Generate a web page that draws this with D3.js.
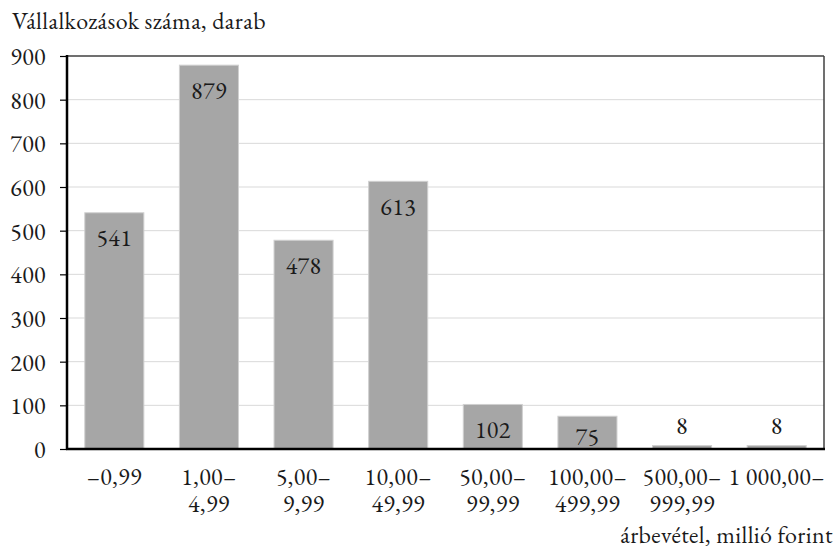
<!DOCTYPE html>
<html><head><meta charset="utf-8">
<script src="https://cdn.jsdelivr.net/npm/d3@7"></script>
<style>body{margin:0;background:#fff}svg{display:block}</style>
</head><body><svg id="c" width="837" height="550"></svg>
<script>
const categories = [["–0,99"],["1,00–","4,99"],["5,00–","9,99"],["10,00–","49,99"],["50,00–","99,99"],["100,00–","499,99"],["500,00–","999,99"],["1 000,00–"]];
const values = [541, 879, 478, 613, 102, 75, 8, 8];
const yTicks = [0,100,200,300,400,500,600,700,800,900];
const yTitle = "Vállalkozások száma, darab";
const xTitle = "árbevétel, millió forint";

const FONT = '"EB Garamond","Liberation Serif",serif';
const fs = 24;
const svg = d3.select("#c");
const L = 67, R = 824, T = 56, B = 449;
const x = d3.scaleBand().domain(d3.range(values.length)).range([L, R]).paddingInner(0.376).paddingOuter(0.188);
const y = d3.scaleLinear().domain([0, 900]).range([B, T]);

function styleText(sel) {
  return sel.style("font-family", FONT).style("font-size", fs + "px").style("letter-spacing", "0.4px").style("fill", "#1a1a1a");
}

// gridlines
svg.append("g").selectAll("line").data(yTicks.filter(d => d > 0 && d < 900)).join("line")
  .attr("x1", L).attr("x2", R).attr("y1", d => y(d)).attr("y2", d => y(d))
  .attr("stroke", "#d9d9d9").attr("stroke-width", 1);

// frame top/right
svg.append("line").attr("x1", L).attr("x2", R).attr("y1", T).attr("y2", T).attr("stroke", "#404040").attr("stroke-width", 1.5);
svg.append("line").attr("x1", R).attr("x2", R).attr("y1", T).attr("y2", B).attr("stroke", "#404040").attr("stroke-width", 1.5);

// bars
svg.append("g").selectAll("rect").data(values).join("rect")
  .attr("x", (d, i) => x(i)).attr("width", x.bandwidth())
  .attr("y", d => y(d)).attr("height", d => B - y(d))
  .attr("fill", "#a6a6a6").attr("stroke", "#d0d0d0").attr("stroke-width", 1);

// data labels
styleText(svg.append("g").selectAll("text").data(values).join("text")
  .attr("x", (d, i) => x(i) + x.bandwidth() / 2)
  .attr("y", d => (B - y(d) > 30 ? Math.min(y(d) + 25, B - 13) : y(d) - 20))
  .attr("text-anchor", "middle").attr("dominant-baseline", "central")
  .text(d => d));

// y axis
const ya = d3.axisLeft(y).tickValues(yTicks).tickSize(7).tickPadding(14).tickFormat(d3.format("d"));
const yg = svg.append("g").attr("transform", `translate(${L},0)`).call(ya);
yg.select(".domain").remove();
yg.selectAll("line").attr("stroke", "#000").attr("stroke-width", 1.2);
styleText(yg.selectAll("text")).attr("dy", null).attr("dominant-baseline", "central");
svg.append("line").attr("x1", L).attr("x2", L).attr("y1", T - 1).attr("y2", B + 1).attr("stroke", "#000").attr("stroke-width", 2.5);
svg.append("line").attr("x1", L - 1).attr("x2", R + 1).attr("y1", B).attr("y2", B).attr("stroke", "#000").attr("stroke-width", 2.5);

// x labels
const xl = styleText(svg.append("g").selectAll("text").data(categories).join("text")
  .attr("x", (d, i) => x(i) + x.bandwidth() / 2).attr("y", 476)
  .attr("text-anchor", "middle").attr("dominant-baseline", "central"));
xl.selectAll("tspan").data(d => d).join("tspan")
  .attr("x", function() { return this.parentNode.getAttribute("x"); })
  .attr("dy", (d, i) => i === 0 ? 0 : 26.5).text(d => d);

// titles
styleText(svg.append("text").attr("x", 12).attr("y", 20).attr("dominant-baseline", "central").text(yTitle));
styleText(svg.append("text").attr("x", 833).attr("y", 543).attr("text-anchor", "end").text(xTitle));
</script></body></html>
